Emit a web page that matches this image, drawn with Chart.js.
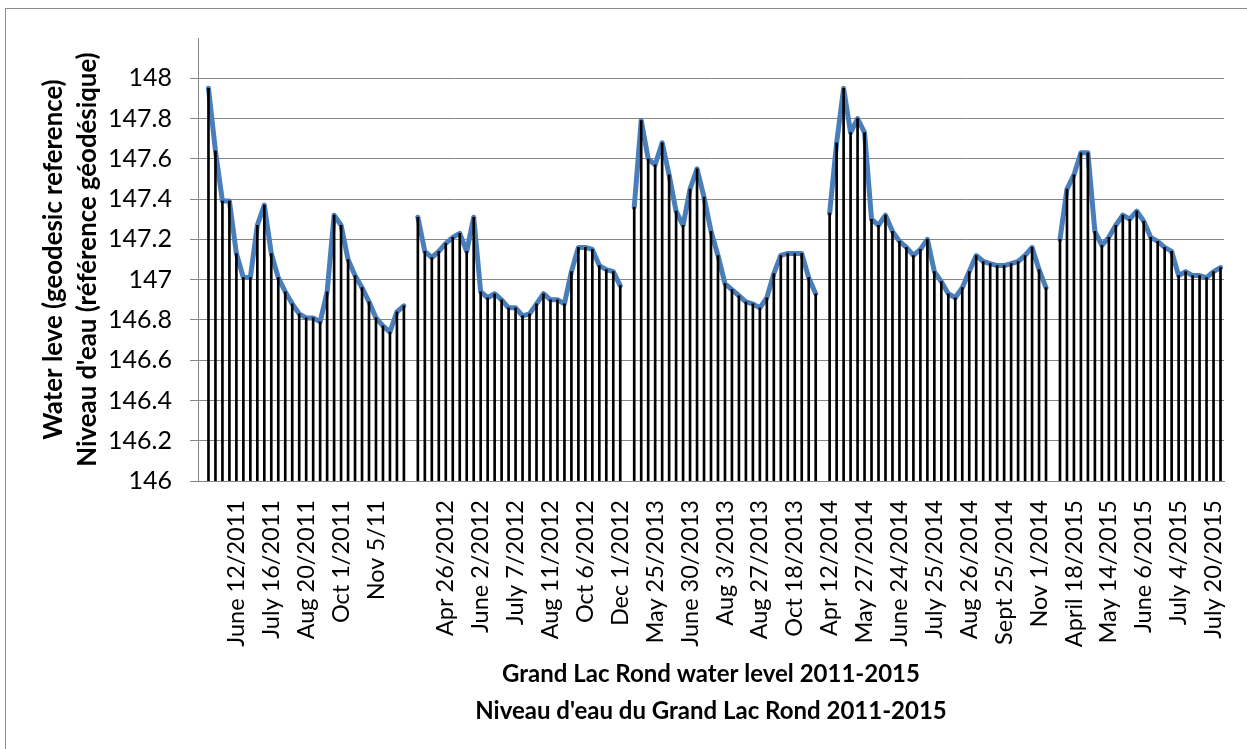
<!DOCTYPE html>
<html><head><meta charset="utf-8">
<script src="https://cdn.jsdelivr.net/npm/chart.js@4.4.0/dist/chart.umd.min.js"></script>
<style>
html,body{margin:0;padding:0;background:#fff;}
#wrap{position:relative;width:1247px;height:749px;overflow:hidden;background:#fff;}
#frame{position:absolute;left:5px;top:8px;width:1270px;height:780px;border:1px solid #8c8c8c;box-sizing:border-box;}
canvas{position:absolute;left:0;top:0;}
</style></head><body>
<div id="wrap"><div id="frame"></div><canvas id="c" width="1247" height="749"></canvas></div>
<script>
// Water level readings per season (m, geodesic reference)
const level2011 = [147.95,147.64,147.39,147.39,147.13,147.01,147.01,147.27,147.37,147.13,147.01,146.94,146.88,146.83,146.81,146.81,146.79,146.94,147.32,147.27,147.10,147.02,146.96,146.89,146.81,146.77,146.74,146.84,146.87];
const level2012 = [147.31,147.14,147.11,147.14,147.18,147.21,147.23,147.14,147.31,146.94,146.91,146.93,146.90,146.86,146.86,146.82,146.83,146.88,146.93,146.90,146.90,146.88,147.04,147.16,147.16,147.15,147.07,147.05,147.04,146.97];
const level2013 = [147.36,147.79,147.60,147.57,147.68,147.52,147.34,147.27,147.45,147.55,147.41,147.24,147.12,146.98,146.95,146.92,146.89,146.88,146.86,146.91,147.03,147.12,147.13,147.13,147.13,147.01,146.93];
const level2014 = [147.33,147.68,147.95,147.73,147.80,147.73,147.30,147.27,147.32,147.24,147.19,147.16,147.12,147.15,147.20,147.04,146.99,146.93,146.91,146.96,147.04,147.12,147.09,147.08,147.07,147.07,147.08,147.09,147.12,147.16,147.05,146.96];
const level2015 = [147.20,147.45,147.52,147.63,147.63,147.24,147.17,147.21,147.27,147.32,147.30,147.34,147.29,147.21,147.19,147.16,147.14,147.02,147.04,147.02,147.02,147.01,147.04,147.06];

// Category labels shown on every 5th category ('' = blank gap category)
const tickLabels = ['June 12/2011','July 16/2011','Aug 20/2011','Oct 1/2011','Nov 5/11','',
  'Apr 26/2012','June 2/2012','July 7/2012','Aug 11/2012','Oct 6/2012','Dec 1/2012',
  'May 25/2013','June 30/2013','Aug 3/2013','Aug 27/2013','Oct 18/2013',
  'Apr 12/2014','May 27/2014','June 24/2014','July 25/2014','Aug 26/2014','Sept 25/2014','Nov 1/2014',
  'April 18/2015','May 14/2015','June 6/2015','July 4/2015','July 20/2015'];

const yTitle = ['Water leve (geodesic reference)', "Niveau d'eau (référence géodésique)"];
const xTitle = ['Grand Lac Rond water level 2011-2015', "Niveau d'eau du Grand Lac Rond 2011-2015"];

// Seasons separated by an empty category
const series = [null, ...level2011, null, ...level2012, null, ...level2013, null, ...level2014, null, ...level2015];
const categories = series.map(() => '');
tickLabels.forEach((t, i) => { categories[5 * (i + 1)] = t; });

const FONT = 'Lato, Carlito, Calibri, sans-serif';
const GRID = '#878787';

new Chart(document.getElementById('c'), {
  type: 'bar',
  data: {
    labels: categories,
    datasets: [
      { type: 'bar', data: series, backgroundColor: '#000', barThickness: 2, order: 0 },
      { type: 'line', data: series, borderColor: '#4a7ebb', borderWidth: 5, pointRadius: 0,
        tension: 0, spanGaps: false, borderJoinStyle: 'round', borderCapStyle: 'round', order: 1 }
    ]
  },
  options: {
    responsive: false,
    animation: false,
    devicePixelRatio: 1,
    layout: { padding: { left: 10, top: 38, right: 23, bottom: 0 } },
    plugins: { legend: { display: false }, tooltip: { enabled: false } },
    scales: {
      x: {
        offset: true,
        grid: { display: true, color: 'rgba(0,0,0,0)', drawTicks: false },
        border: { display: true, color: GRID, width: 1 },
        ticks: { autoSkip: false, minRotation: 90, maxRotation: 90, padding: 19,
          color: '#000', font: { family: FONT, size: 23.5 } },
        title: { display: true, text: xTitle, color: '#000', padding: { top: 0, bottom: 19 },
          font: { family: FONT, size: 24, weight: 'bold', lineHeight: 1.54 } },
        afterFit: (s) => { s.height = 749 - 481; s.paddingLeft = 0; s.paddingRight = 0; }
      },
      y: {
        min: 146, max: 148.2,
        grid: { color: (c) => (c.tick && c.tick.value > 148.1) ? 'rgba(0,0,0,0)' : GRID,
                tickColor: (c) => (c.tick && c.tick.value > 148.1) ? 'rgba(0,0,0,0)' : GRID,
                tickLength: 8, lineWidth: 1 },
        border: { display: true, color: GRID, width: 1 },
        ticks: { stepSize: 0.2, padding: 18, color: '#000', font: { family: FONT, size: 25 },
          callback: (v) => v > 148.1 ? '' : String(Number(v.toFixed(1))) },
        title: { display: true, text: yTitle, color: '#000', padding: { top: 27, bottom: 0 },
          font: { family: FONT, size: 25.8, weight: 'bold', lineHeight: 1.3 } },
        afterFit: (s) => { s.width = 198 - 10; s.paddingTop = 0; s.paddingBottom = 0; }
      }
    }
  }
});
</script>
</body></html>
